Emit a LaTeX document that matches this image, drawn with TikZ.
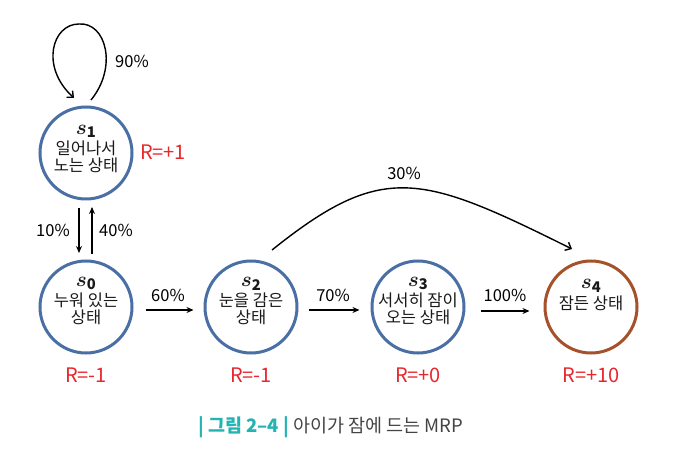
\documentclass[tikz,border=0pt]{standalone}
\usepackage{amsmath}
\usepackage{fontspec}
\setmainfont{Noto Sans CJK KR}
\usetikzlibrary{arrows.meta,calc}
\definecolor{sblue}{HTML}{4A6FA5}
\definecolor{sbrown}{HTML}{A5522A}
\definecolor{rred}{HTML}{E8262D}
\definecolor{capteal}{HTML}{22B3B3}
\definecolor{capgray}{HTML}{444444}
\begin{document}
\begin{tikzpicture}[x=1pt,y=1pt,
  state/.style={circle,draw=sblue,line width=3pt,minimum size=92pt,inner sep=0pt},
  stxt/.style={align=center,font=\fontsize{16.5}{17}\selectfont,text=black!90},
  rlab/.style={text=rred,font=\fontsize{20}{20}\selectfont},
  plab/.style={font=\fontsize{16.5}{16.5}\selectfont},
  sarr/.style={line width=1.3pt,-{Stealth[length=7pt,width=6pt]}},
  carr/.style={line width=1.4pt,-{Straight Barb[length=5pt,width=9pt]}},
  ]
\useasboundingbox (0,0) rectangle (684,452);
\newcommand{\sm}[1]{{\fontsize{21}{21}\selectfont$\boldsymbol{s}_{\mathbf{#1}}$}}
\node[state] (s1) at (86,299) {};
\node[state] (s0) at (86,145) {};
\node[state] (s2) at (251,145) {};
\node[state] (s3) at (418,145) {};
\node[state,draw=sbrown] (s4) at (591,145) {};
\node[stxt] (t1) at ($(s1)+(0,4)$) {\sm{1}\\[2pt]일어나서\\노는 상태};
\node[stxt] (t0) at ($(s0)+(0,6)$) {\sm{0}\\[2pt]누워 있는\\상태};
\node[stxt] (t2) at ($(s2)+(0,6)$) {\sm{2}\\[2pt]눈을 감은\\상태};
\node[stxt] (t3) at ($(s3)+(0,6)$) {\sm{3}\\[2pt]서서히 잠이\\오는 상태};
\node[stxt] (t4) at ($(s4)+(0,12)$) {\sm{4}\\[2pt]잠든 상태};
\node[rlab] (r1) at (163,300) {R=+1};
\node[rlab] (r0) at (86,77) {R=-1};
\node[rlab] (r2) at (251,77) {R=-1};
\node[rlab] (r3) at (418,77) {R=+0};
\node[rlab] (r4) at (591,77) {R=+10};
% self loop
\coordinate (la) at ($(s1)+(5,53)$);
\coordinate (lb) at ($(s1)+(-12,55)$);
\draw[carr] (la) .. controls ($(s1)+(32,86)$) and ($(s1)+(20,131)$) .. ($(s1)+(-7,129)$)
  .. controls ($(s1)+(-34,129)$) and ($(s1)+(-46,86)$) .. (lb);
\node[plab] (p90) at (132,391) {90\%};
% vertical
\draw[sarr] ($(s1)+(-7,-55)$) -- ($(s0)+(-7,54)$);
\draw[sarr] ($(s0)+(6,53)$) -- ($(s1)+(6,-54)$);
\node[plab] (p10) at (53,222) {10\%};
\node[plab] (p40) at (116,222) {40\%};
% horizontal
\draw[sarr] ($(s0.east)+(12,-3)$) -- ($(s2.west)+(-10,-3)$);
\node[plab] (p60) at (168,157) {60\%};
\draw[sarr] ($(s2.east)+(10,-3)$) -- ($(s3.west)+(-11,-3)$);
\node[plab] (p70) at (333,157) {70\%};
\draw[sarr] ($(s3.east)+(15,-4)$) -- ($(s4.west)+(-14,-4)$);
\node[plab] (p100) at (505,157) {100\%};
% long curve
\coordinate (ca) at ($(s2)+(21,57)$);
\coordinate (cb) at ($(s4)+(-19,58)$);
\draw[carr] (ca) .. controls (383,291) and (421,278) .. (cb);
\node[plab] (p30) at (404,279) {30\%};
% caption
\node[anchor=west,inner sep=0pt,font=\fontsize{18.5}{18.5}\selectfont] (cap) at (198,25)
  {\textcolor{capteal}{\textbf{| 그림 2–4 |}} \textcolor{capgray}{아이가 잠에 드는 MRP}};
\end{tikzpicture}
\end{document}
